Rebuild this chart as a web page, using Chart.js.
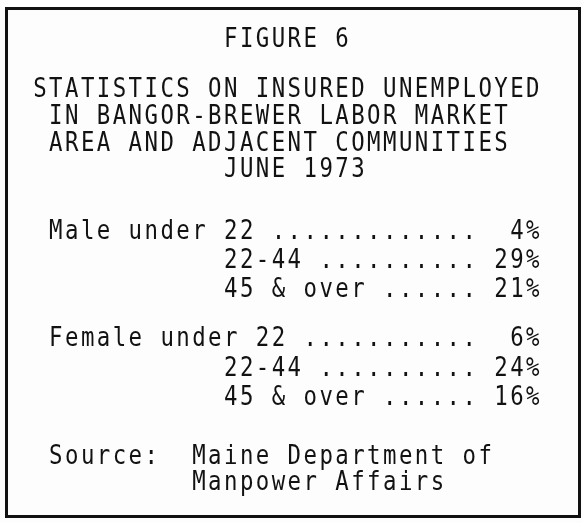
<!DOCTYPE html>
<html>
<head>
<meta charset="utf-8">
<script src="https://cdn.jsdelivr.net/npm/chart.js@4"></script>
<style>
  html, body { margin: 0; padding: 0; background: #fdfdfd; }
  #wrap { width: 583px; height: 523px; }
</style>
</head>
<body>
<div id="wrap"><canvas id="figure6" width="583" height="523"></canvas></div>
<script>
// values
const titleLines = [
    "FIGURE 6",
    "STATISTICS ON INSURED UNEMPLOYED",
    "IN BANGOR-BREWER LABOR MARKET",
    "AREA AND ADJACENT COMMUNITIES",
    "JUNE 1973",
];
const sexGroups = ["Male", "Female"];
const ageGroups = ["under 22", "22-44", "45 & over"];
const maleShare = [4, 29, 21];
const femaleShare = [6, 24, 16];
const sourceLabel = "Source:";
const sourceLines = ["Maine Department of", "Manpower Affairs"];

// typewriter grid (layout only)
const gridX = 32;
const pitch = 15.9;
const titleCols = [12, 0, 1, 1, 12];
const titleBase = [47, 97, 124, 151, 177];
const rowBase = [[239, 268, 297], [346, 376, 405]];
const sourceBase = [464, 490];

const shares = [maleShare, femaleShare];
const rowLabels = [];
const rowValues = [];
sexGroups.forEach((sex, i) => {
    ageGroups.forEach((age, j) => {
        rowLabels.push(j === 0 ? `${sex} ${age}` : age);
        rowValues.push(shares[i][j]);
    });
});

// one glyph per cell, condensed like the old typewriter face
const typeLine = (ctx, text, col, base) => {
    for (let k = 0; k < text.length; k++) {
        const ch = text[k];
        if (ch === " ") continue;
        ctx.save();
        ctx.translate(gridX + (col + k) * pitch + pitch / 2, base);
        ctx.scale(0.86, 1);
        ctx.fillText(ch, 0, 0);
        ctx.restore();
    }
};

const typewriter = {
    id: "typewriter",
    afterDraw(chart) {
        const ctx = chart.ctx;
        ctx.save();
        // frame
        ctx.strokeStyle = "#111";
        ctx.lineWidth = 3;
        ctx.strokeRect(6.5, 8.5, 573, 508);

        ctx.fillStyle = "#121212";
        ctx.font = "26px 'DejaVu Sans Mono'";
        ctx.textAlign = "center";
        ctx.textBaseline = "alphabetic";

        titleLines.forEach((t, i) => typeLine(ctx, t, titleCols[i], titleBase[i]));

        rowLabels.forEach((label, idx) => {
            const g = Math.floor(idx / ageGroups.length);
            const j = idx % ageGroups.length;
            const base = rowBase[g][j];
            const col = j === 0 ? 1 : 12;
            typeLine(ctx, label, col, base);
            const dotStart = col + label.length + 1;
            typeLine(ctx, ".".repeat(27 - dotStart + 1), dotStart, base);
            const val = `${chart.data.datasets[0].data[idx]}%`;
            typeLine(ctx, val, 32 - val.length, base);
        });

        typeLine(ctx, sourceLabel, 1, sourceBase[0]);
        sourceLines.forEach((s, i) => typeLine(ctx, s, 10, sourceBase[i]));
        ctx.restore();
    },
};

new Chart(document.getElementById("figure6").getContext("2d"), {
    type: "bar",
    data: {
        labels: rowLabels,
        datasets: [
            {
                label: "Insured unemployed (%)",
                data: rowValues,
                backgroundColor: "rgba(0, 0, 0, 0)",
                borderWidth: 0,
            },
        ],
    },
    options: {
        responsive: false,
        animation: false,
        indexAxis: "y",
        layout: { padding: 0 },
        scales: {
            x: { display: false, min: 0, max: 35 },
            y: { display: false },
        },
        plugins: {
            legend: { display: false },
            tooltip: { enabled: false },
        },
    },
    plugins: [typewriter],
});
</script>
</body>
</html>
